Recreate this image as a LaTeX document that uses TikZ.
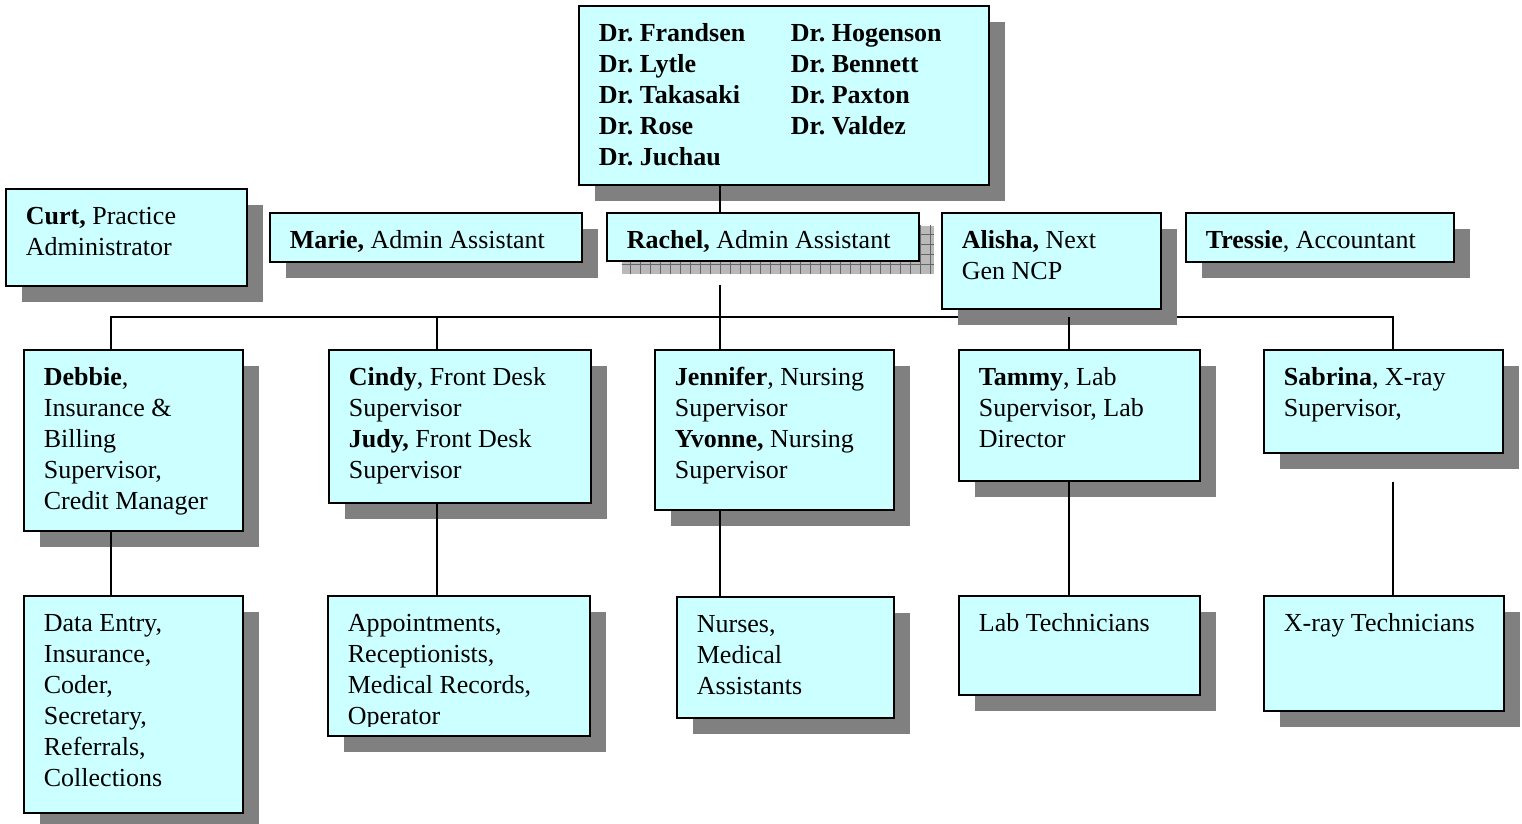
\documentclass[tikz,border=0pt]{standalone}
\usepackage{fontspec}
\setmainfont{Liberation Serif}
\usetikzlibrary{shadows,patterns.meta,backgrounds}

\newlength\pxu
\setlength\pxu{0.75pt}
\definecolor{boxfill}{RGB}{204,255,255}
\definecolor{shadowgray}{RGB}{128,128,128}

% Text im Kasten: Breite, Hoehe, Inhalt (oben links ausgerichtet)
\newcommand\boxtxt[3]{\parbox[t][#2\pxu][t]{#1\pxu}{\raggedright\leftskip=20\pxu\parindent=0pt\frenchspacing
  \vspace*{14\pxu}\strut#3}}

\begin{document}
\begin{tikzpicture}[x=0.75pt, y=-0.75pt,
		cardbase/.style={draw, line width=1.3pt, fill=boxfill, anchor=north west, inner sep=0pt,
			font=\fontsize{19.5}{23.25}\selectfont},
		orgbox/.style={cardbase, drop shadow={shadow xshift=16\pxu, shadow yshift=-16\pxu, opacity=1, fill=shadowgray}},
		hatchbox/.style={cardbase, drop shadow={shadow xshift=15\pxu, shadow yshift=-13\pxu, opacity=1, fill=gray!55,
			postaction={pattern={Hatch[angle=0,distance=7.5pt,line width=.6pt]}, pattern color=gray!80!black}}},
		link/.style={line width=1.1pt}]
	\useasboundingbox (0,0) rectangle (1522,824);
	% Aerzte
	\node[orgbox] (doctors) at (578,5) {\boxtxt{410}{179}{\bfseries
		\makebox[192\pxu][l]{Dr. Frandsen}Dr. Hogenson\\
		\makebox[192\pxu][l]{Dr. Lytle}Dr. Bennett\\
		\makebox[192\pxu][l]{Dr. Takasaki}Dr. Paxton\\
		\makebox[192\pxu][l]{Dr. Rose}Dr. Valdez\\
		Dr. Juchau}};
	% Verwaltung
	\node[orgbox] (curt) at (5,188) {\boxtxt{241}{97}{\textbf{Curt,} Practice\\Administrator}};
	\node[orgbox] (marie) at (269,212) {\boxtxt{312}{49}{\textbf{Marie,} Admin Assistant}};
	\node[hatchbox] (rachel) at (606,212) {\boxtxt{312}{48}{\textbf{Rachel,} Admin Assistant}};
	\node[orgbox] (alisha) at (941,212) {\boxtxt{219}{96}{\textbf{Alisha,} Next\\Gen NCP}};
	\node[orgbox] (tressie) at (1185,212) {\boxtxt{268}{49}{\textbf{Tressie}, Accountant}};
	% Abteilungsleiter
	\node[orgbox] (debbie) at (23,349) {\boxtxt{219}{181}{\textbf{Debbie},\\Insurance \&\\Billing\\Supervisor,\\Credit Manager}};
	\node[orgbox] (cindy) at (328,349) {\boxtxt{262}{153}{\textbf{Cindy}, Front Desk\\Supervisor\\\textbf{Judy,} Front Desk\\Supervisor}};
	\node[orgbox] (jennifer) at (654,349) {\boxtxt{239}{160}{\textbf{Jennifer}, Nursing\\Supervisor\\\textbf{Yvonne,} Nursing\\Supervisor}};
	\node[orgbox] (tammy) at (958,349) {\boxtxt{241}{131}{\textbf{Tammy}, Lab\\Supervisor, Lab\\Director}};
	\node[orgbox] (sabrina) at (1263,349) {\boxtxt{239}{103}{\textbf{Sabrina}, X-ray\\Supervisor,}};
	% Mitarbeiter
	\node[orgbox] (dataentry) at (23,595) {\boxtxt{219}{217}{Data Entry,\\Insurance,\\Coder,\\Secretary,\\Referrals,\\Collections}};
	\node[orgbox] (appts) at (327,595) {\boxtxt{262}{140}{Appointments,\\Receptionists,\\Medical Records,\\Operator}};
	\node[orgbox] (nurses) at (676,596) {\boxtxt{217}{121}{Nurses,\\Medical\\Assistants}};
	\node[orgbox] (labtech) at (958,595) {\boxtxt{241}{99}{Lab Technicians}};
	\node[orgbox] (xraytech) at (1263,595) {\boxtxt{240}{115}{X-ray Technicians}};
	% letzte Zeile unten abgeschnitten
	\fill[boxfill] ([shift={(2.5,-10)}]appts.south west) rectangle ([shift={(-2.5,-2.5)}]appts.south east);
	% Verbindungslinien
	\coordinate (c1) at (111,317);
	\coordinate (c2) at (437,317);
	\coordinate (spine) at (720,317);
	\coordinate (c4) at (1069,317);
	\coordinate (c5) at (1393,317);
	\begin{pgfonlayer}{background}
		\draw[link] (c1 |- debbie.north) -- (c1) -- (c5) -- (c5 |- sabrina.north);
	\end{pgfonlayer}
	\draw[link] (spine |- doctors.south) -- (spine |- rachel.north);
	\draw[link, shorten <=23\pxu] (spine |- rachel.south) -- (spine);
	\foreach \c/\n in {c2/cindy,spine/jennifer,c4/tammy} \draw[link] (\c) -- (\c |- \n.north);
	\foreach \c/\a/\b in {c1/debbie/dataentry,c2/cindy/appts,spine/jennifer/nurses,c4/tammy/labtech}
		\draw[link] (\c |- \a.south) -- (\c |- \b.north);
	\draw[link, shorten <=28\pxu] (c5 |- sabrina.south) -- (c5 |- xraytech.north);
\end{tikzpicture}
\end{document}
